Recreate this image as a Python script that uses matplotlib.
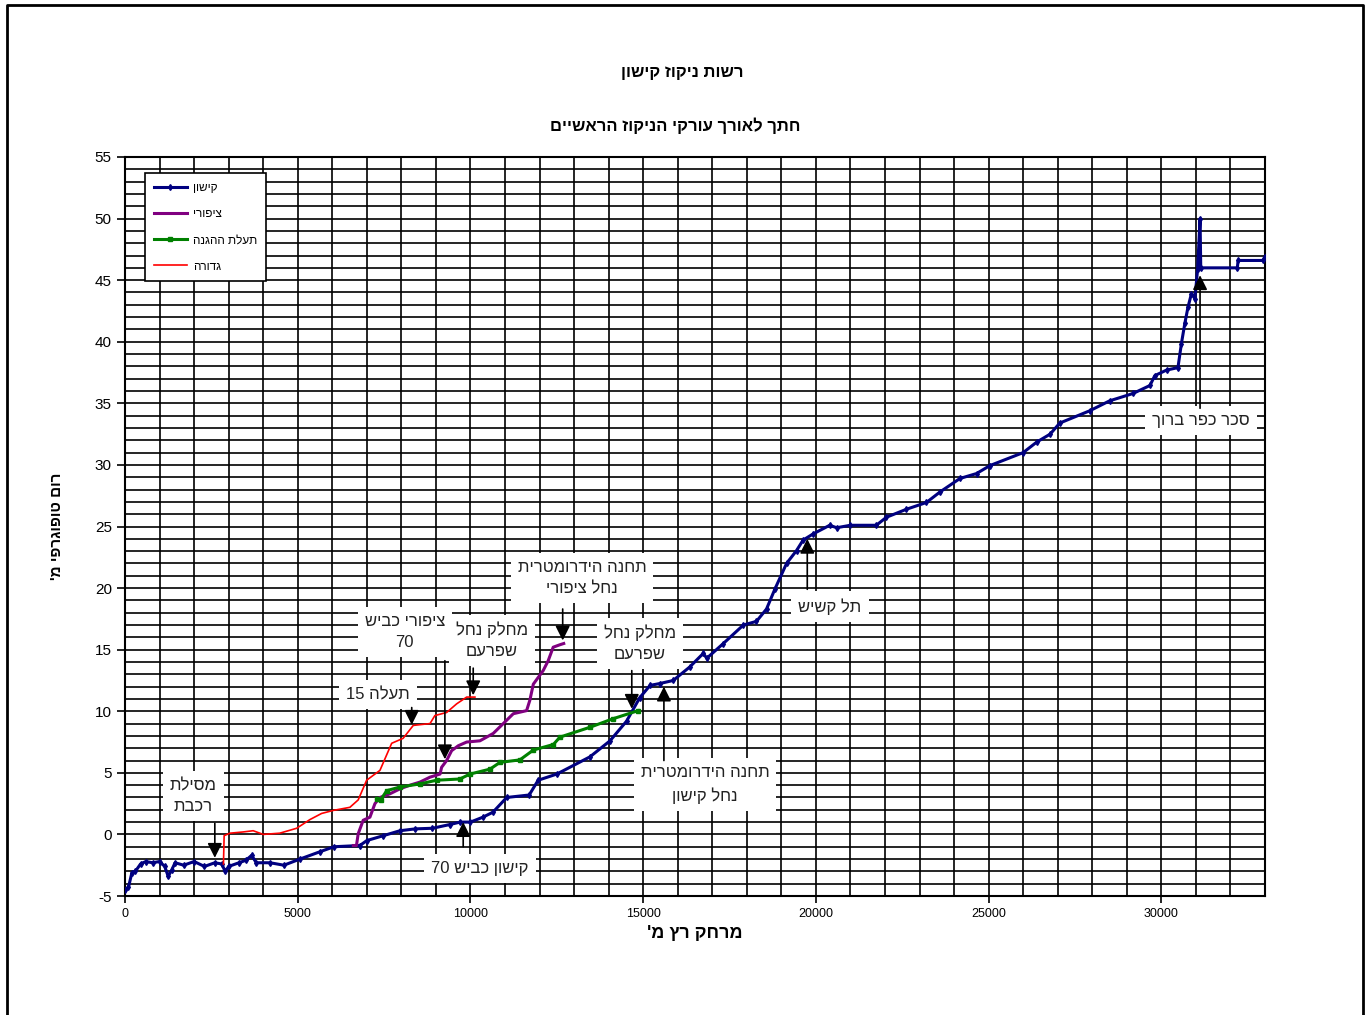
import re
import numpy as np
import matplotlib
matplotlib.use('Agg')
import matplotlib.pyplot as plt
from matplotlib.lines import Line2D

plt.rcParams['font.family'] = ['Liberation Sans', 'DejaVu Sans']
plt.rcParams['axes.unicode_minus'] = False


def rtl(s):
    # matplotlib has no bidi support: flip Hebrew to visual order, keep numbers LTR
    lines = []
    for line in s.split('\n'):
        r = line[::-1]
        r = re.sub(r'\d+', lambda m: m.group(0)[::-1], r)
        lines.append(r)
    return '\n'.join(lines)


# ---- data ----
kishon_x = [0, 100, 200, 300, 450, 600, 800, 1000, 1150, 1250, 1350, 1450, 1700, 2000,
            2300, 2600, 2800, 2900, 3000, 3300, 3500, 3666, 3800, 4200, 4600, 5065, 5650,
            6050, 6800, 7000, 7480, 7960, 8400, 8900, 9400, 9700, 10000, 10360, 10650,
            11050, 11700, 11960, 12500, 13460, 14040, 14520, 14900, 15200, 15480, 15870,
            16350, 16740, 16840, 17320, 17900, 18280, 18570, 18810, 19150, 19440, 19630,
            19920, 20400, 20600, 21000, 21750, 22040, 22620, 23200, 23590, 24170, 24650,
            25040, 26000, 26390, 26780, 27060, 27930, 28500, 29180, 29670, 29810, 30150,
            30480, 30580, 30680, 30770, 30870, 30970, 31050, 31120, 31140, 32200, 32220,
            32950, 33000]
kishon_y = [-4.5, -4.3, -3.1, -3.0, -2.4, -2.2, -2.3, -2.2, -2.6, -3.4, -2.9, -2.3, -2.5,
            -2.2, -2.6, -2.3, -2.4, -3.0, -2.6, -2.3, -2.1, -1.7, -2.3, -2.3, -2.5, -2.0,
            -1.4, -1.0, -0.9, -0.5, -0.1, 0.3, 0.45, 0.5, 0.8, 1.0, 1.0, 1.4, 1.8, 3.0, 3.2,
            4.4, 4.9, 6.3, 7.6, 9.2, 11.1, 12.1, 12.25, 12.5, 13.6, 14.7, 14.3, 15.5, 17.0,
            17.3, 18.3, 19.9, 22.0, 23.05, 23.9, 24.4, 25.1, 24.9, 25.1, 25.1, 25.75, 26.4,
            26.95, 27.8, 28.9, 29.3, 29.95, 31.0, 31.85, 32.5, 33.4, 34.4, 35.2, 35.8, 36.45,
            37.25, 37.7, 37.9, 39.85, 41.5, 42.8, 43.9, 43.5, 45.9, 50.0, 46.0, 46.0, 46.6,
            46.6, 46.9]

tzipori_x = [6610, 6700, 6750, 6895, 7090, 7235, 7380, 7670, 7960, 8250, 8540, 8830, 9120,
             9165, 9310, 9455, 9648, 9890, 10275, 10660, 10950, 11240, 11625, 11720, 11820,
             12105, 12250, 12395, 12590, 12700]
tzipori_y = [-0.9, -0.9, 0.05, 1.15, 1.4, 2.5, 3.0, 3.3, 3.7, 4.0, 4.25, 4.65, 4.9, 5.45,
             6.0, 6.8, 7.2, 7.5, 7.6, 8.2, 9.0, 9.8, 10.05, 10.9, 12.2, 13.3, 14.1, 15.2,
             15.4, 15.5]

haganah_x = [7285, 7400, 7575, 7960, 8540, 9020, 9695, 9985, 10565, 10855, 11430, 11820,
             12400, 12590, 13460, 14135, 14855]
haganah_y = [2.9, 2.8, 3.55, 3.85, 4.1, 4.4, 4.5, 4.9, 5.3, 5.85, 6.05, 6.85, 7.3, 7.9,
             8.7, 9.4, 10.05]

gdora_x = [2850, 2870, 3040, 3420, 3710, 4000, 4480, 4970, 5350, 5690, 6030, 6510, 6750,
           6995, 7380, 7720, 8050, 8345, 8830, 8970, 9310, 9600, 9890, 10130]
gdora_y = [-2.4, -0.1, 0.1, 0.2, 0.3, 0.0, 0.1, 0.5, 1.2, 1.7, 1.95, 2.2, 2.8, 4.4, 5.2,
           7.4, 7.8, 8.85, 9.0, 9.65, 9.9, 10.6, 11.15, 11.15]

series_names = ['קישון', 'ציפורי', 'תעלת ההגנה', 'גדורה']

# callouts: label, text (x, y), arrow x, arrow start y, arrow tip y
notes = [
    ('מסילת\nרכבת', 1970, 3.1, 2600, 0.9, -1.9),
    ('תעלה 15', 7320, 11.35, 8300, 10.3, 8.9),
    ('ציפורי כביש\n70', 8100, 16.4, 9260, 14.1, 6.1),
    ('מחלק נחל\nשפרעם', 10620, 15.75, 10080, 13.5, 11.3),
    ('תחנה הידרומטרית\nנחל ציפורי', 13230, 20.8, 12670, 18.3, 15.75),
    ('מחלק נחל\nשפרעם', 14910, 15.5, 14670, 13.3, 10.2),
    ('תחנה הידרומטרית\nנחל קישון', 16790, 4.05, 15600, 6.0, 12.0),
    ('קישון כביש 70', 10280, -2.75, 9790, -1.0, 1.0),
    ('תל קשיש', 20410, 18.5, 19750, 19.9, 24.0),
    ('סכר כפר ברוך', 31150, 33.6, 31120, 34.6, 45.4),
]

fig = plt.figure(figsize=(13.65, 10.15), dpi=100)
ax = fig.add_axes([125 / 1365, 1 - 896 / 1015, 1140 / 1365, 739 / 1015])

ax.set_xlim(0, 33000)
ax.set_ylim(-5, 55)
ax.set_xticks(np.arange(0, 30001, 5000))
ax.set_xticks(np.arange(0, 33001, 1000), minor=True)
ax.set_yticks(np.arange(-5, 56, 5))
ax.set_yticks(np.arange(-5, 56, 1), minor=True)
ax.grid(True, which='both', color='black', linewidth=1.2)
ax.set_axisbelow(True)
ax.tick_params(axis='x', which='major', labelsize=9, length=5, width=1.2)
ax.tick_params(axis='y', which='major', labelsize=11, length=6, width=1.2)
ax.tick_params(which='minor', length=0)
for sp in ax.spines.values():
    sp.set_linewidth(1.5)

ax.plot(kishon_x, kishon_y, color='#000080', lw=2.2, marker='d', ms=3,
        label=rtl(series_names[0]), zorder=5)
ax.plot(tzipori_x, tzipori_y, color='#800080', lw=2.2,
        label=rtl(series_names[1]), zorder=5)
ax.plot(haganah_x, haganah_y, color='#008000', lw=2.2, marker='s', ms=2.5,
        label=rtl(series_names[2]), zorder=5)
ax.plot(gdora_x, gdora_y, color='#FF0000', lw=1.2,
        label=rtl(series_names[3]), zorder=5)

for txt, tx, ty, axx, y0, y1 in notes:
    ax.text(tx, ty, rtl(txt), ha='center', va='center', multialignment='center',
            fontsize=12, color='#222222', linespacing=1.5, zorder=3,
            bbox=dict(facecolor='white', edgecolor='none', pad=5))
    ax.annotate('', xy=(axx, y1), xytext=(axx, y0),
                arrowprops=dict(arrowstyle='-|>', color='black', lw=1.2,
                                mutation_scale=22, shrinkA=0, shrinkB=0),
                zorder=6)

leg = ax.legend(loc='upper left', bbox_to_anchor=(0.0175, 0.978), borderaxespad=0,
                fontsize=8.5, fancybox=False, edgecolor='black', framealpha=1,
                handlelength=2.8, handletextpad=0.5, borderpad=0.75, labelspacing=1.2)
leg.get_frame().set_linewidth(1.2)
leg.set_zorder(10)

ax.set_xlabel(rtl("מרחק רץ מ'"), fontsize=13, fontweight='bold', labelpad=4)
ax.set_ylabel(rtl("רום טופוגרפי מ'"), fontsize=11, fontweight='bold', labelpad=22)

fig.text(0.5, 1 - 72 / 1015, rtl('רשות ניקוז קישון'), ha='center', va='center',
         fontsize=12, fontweight='bold')
fig.text(0.495, 1 - 126 / 1015, rtl('חתך לאורך עורקי הניקוז הראשיים'), ha='center',
         va='center', fontsize=12, fontweight='bold')

# page frame
fx0, fx1, fy1 = 7 / 1365, 1363 / 1365, 1 - 5 / 1015
fig.add_artist(Line2D([fx0, fx0, fx1, fx1], [0, fy1, fy1, 0], color='black', lw=2,
                      transform=fig.transFigure))

fig.savefig('out.png', dpi=100, facecolor='white')
